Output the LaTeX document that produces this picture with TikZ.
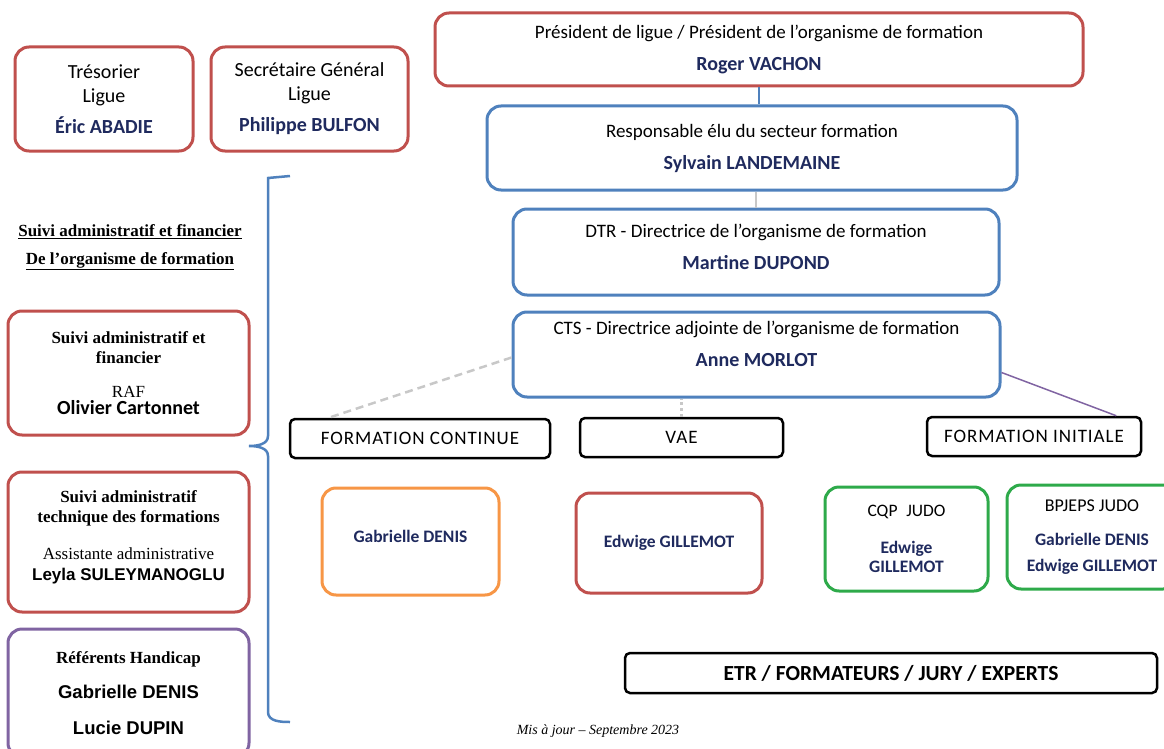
\documentclass[tikz,border=0pt]{standalone}
\usepackage{fontspec}
\setmainfont{Carlito}
\newfontfamily\timesfont{Liberation Serif}
\newfontfamily\arialfont{Liberation Sans}
\usetikzlibrary{positioning}

\definecolor{boxred}{RGB}{192,80,77}
\definecolor{boxblue}{RGB}{79,129,189}
\definecolor{boxorange}{RGB}{247,150,70}
\definecolor{boxgreen}{RGB}{46,170,74}
\definecolor{boxpurple}{RGB}{128,100,162}
\definecolor{navy}{RGB}{31,42,94}
\definecolor{linkgray}{RGB}{200,200,200}

\newcommand{\nom}[1]{{\fontsize{20}{23}\selectfont\bfseries\color{navy}#1}}
\newcommand{\pnom}[1]{{\fontsize{17.5}{20}\selectfont\bfseries\color{navy}#1}}
\newcommand{\tnom}[1]{{\fontsize{20}{23}\selectfont\bfseries #1}}

\begin{document}
\begin{tikzpicture}[x=1pt,y=-1pt,
		orgbox/.style={draw=#1, line width=3pt, rounded corners=14pt,
			align=center, inner sep=0pt, fill=white,
			font=\fontsize{19}{22}\selectfont},
		orgbox/.default=boxred,
		themebox/.style={draw=black, line width=2.5pt, rounded corners=5pt,
			align=center, inner sep=0pt, fill=white,
			font=\fontsize{19}{22}\selectfont\addfontfeature{LetterSpace=5}},
		suivibox/.style={orgbox=#1,
			font=\timesfont\fontsize{17}{20}\selectfont\bfseries},
		link/.style={line width=2.5pt}
	]
	
	\useasboundingbox (0,0) rectangle (1164,749);
	
	% bureau de la ligue
	\node[orgbox, minimum width=178pt, minimum height=104pt, font=\fontsize{20}{23}\selectfont] (tresorier) at (104,99)
	{Trésorier\\[1pt]Ligue\\[8pt]\nom{Éric ABADIE}};
	\node[orgbox, minimum width=197pt, minimum height=104pt, font=\fontsize{20}{23}\selectfont] (secretaire) at (309.5,99)
	{Secrétaire Général\\[1pt]Ligue\\[8pt]\nom{Philippe BULFON}};
	
	% chaine hierarchique
	\node[orgbox, minimum width=648pt, minimum height=73pt] (president) at (759,49.5)
	{Président de ligue / Président de l’organisme de formation\\[10pt]\nom{Roger VACHON}};
	\node[orgbox=boxblue, minimum width=530pt, minimum height=84pt] (responsable) at (752,148)
	{Responsable élu du secteur formation\\[10pt]\nom{Sylvain LANDEMAINE}};
	\node[orgbox=boxblue, minimum width=486pt, minimum height=86pt] (dtr) at (756,252)
	{DTR - Directrice de l’organisme de formation\\[10pt]\nom{Martine DUPOND}\\[-12pt]\mbox{}};
	\node[orgbox=boxblue, minimum width=487pt, minimum height=85pt] (cts) at (756.5,354.5)
	{CTS - Directrice adjointe de l’organisme de formation\\[10pt]\nom{Anne MORLOT}\\[0pt]\mbox{}};
	
	\draw[link, boxblue] (president) -- (president |- responsable.north);
	\draw[link, linkgray] (dtr) -- (dtr |- responsable.south);
	
	% poles de formation
	\node[themebox, minimum width=260pt, minimum height=39pt] (fc) at (420,438.5) {FORMATION CONTINUE};
	\node[themebox, minimum width=203pt, minimum height=39pt] (vae) at (681.5,437.5) {VAE};
	\node[themebox, minimum width=214pt, minimum height=39pt] (fi) at (1034,436.5) {FORMATION INITIALE};
	
	\draw[link, linkgray, dash pattern=on 8pt off 5pt] ([yshift=-3pt]cts.west) -- ([xshift=40pt]fc.north west);
	\draw[link, linkgray, dash pattern=on 3pt off 3pt] (vae) -- (vae |- cts.south);
	\draw[line width=1.5pt, boxpurple] ([yshift=-18pt]cts.east) -- ([xshift=-26pt]fi.north east);
	
	% intervenants
	\node[orgbox=boxorange, minimum width=177pt, minimum height=107pt] (fcnom) at (410.5,541.5)
	{\pnom{Gabrielle DENIS}\\[-12pt]\mbox{}};
	\node[orgbox, minimum width=186pt, minimum height=100pt] (vaenom) at (669,543)
	{\pnom{Edwige GILLEMOT}};
	\node[orgbox=boxgreen, minimum width=163pt, minimum height=104pt, font=\fontsize{17.5}{20}\selectfont] (cqp) at (906.5,539)
	{CQP\enspace JUDO\\[17pt]\pnom{Edwige}\\[-1pt]\pnom{GILLEMOT}};
	\node[orgbox=boxgreen, minimum width=170pt, minimum height=104pt, font=\fontsize{18}{20}\selectfont] (bpjeps) at (1092,537)
	{BPJEPS JUDO\\[14pt]\pnom{Gabrielle DENIS}\\[6pt]\pnom{Edwige GILLEMOT}};
	
	\node[themebox, minimum width=532pt, minimum height=40pt, font=\fontsize{21.5}{24}\selectfont\bfseries] (etr) at (891,673)
	{ETR / FORMATEURS / JURY / EXPERTS};
	
	% suivi administratif
	\node[align=center, font=\timesfont\fontsize{17}{28}\selectfont\bfseries] (suivititre) at (130,247)
	{\underline{Suivi administratif et financier}\\\underline{De l’organisme de formation}};
	
	\node[suivibox=boxred, minimum width=241pt, minimum height=124pt] (suivifin) at (128.5,373)
	{Suivi administratif et\\financier\\[14pt]{\mdseries RAF}\\[-3pt]{\normalfont\tnom{Olivier Cartonnet}}};
	\node[suivibox=boxred, minimum width=241pt, minimum height=140pt] (suivitech) at (128.5,542)
	{Suivi administratif\\technique des formations\\[17pt]{\mdseries Assistante administrative}\\[1pt]{\arialfont\fontsize{17}{20}\selectfont\bfseries Leyla SULEYMANOGLU}\\[-8pt]\mbox{}};
	\node[suivibox=boxpurple, minimum width=241pt, minimum height=128pt] (handicap) at (128.5,693)
	{Référents Handicap\\[15pt]{\arialfont\fontsize{18.5}{21}\selectfont Gabrielle DENIS}\\[16pt]{\arialfont\fontsize{18.5}{21}\selectfont Lucie DUPIN}};
	
	\draw[link, boxblue, line width=2.5pt] (290,176) -- (268,178) -- (268,436)
	to[out=270,in=0] (249,446) to[out=0,in=90] (268,456) -- (268,712)
	to[out=270,in=180] (290,722);
	
	\node[font=\timesfont\itshape\fontsize{14}{16}\selectfont] (maj) at (598,731) {Mis à jour – Septembre 2023};
	
\end{tikzpicture}
\end{document}
